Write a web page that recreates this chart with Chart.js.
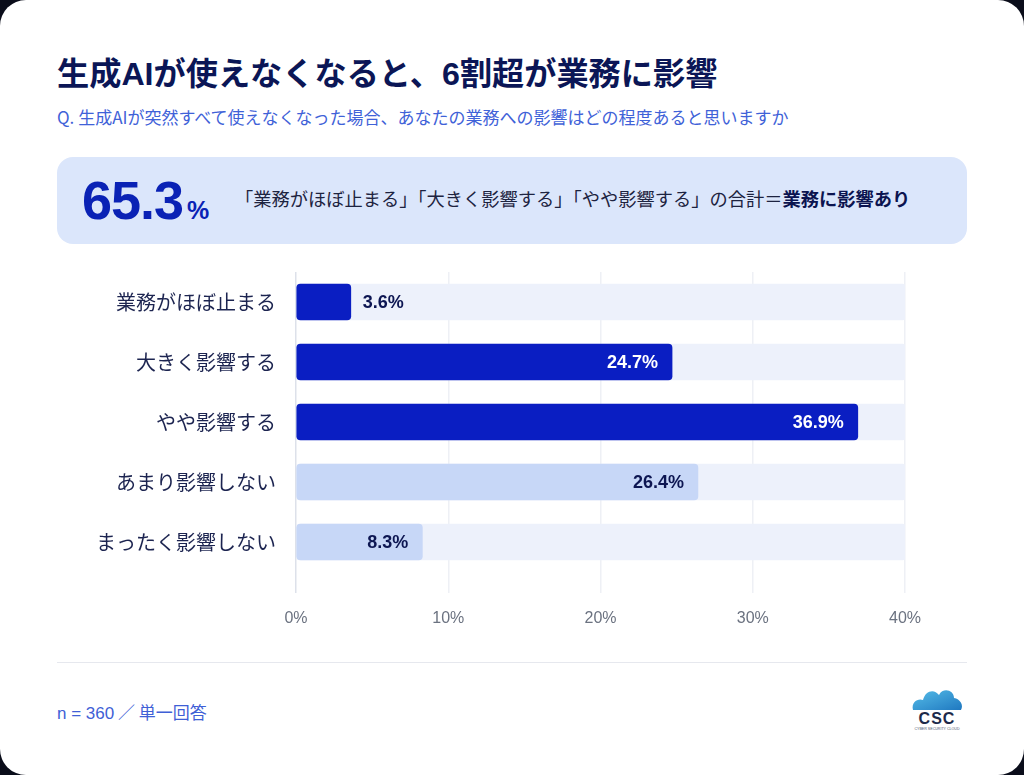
<!DOCTYPE html>
<html lang="ja">
<head>
<meta charset="utf-8">
<script src="https://cdn.jsdelivr.net/npm/chart.js@4.4.1/dist/chart.umd.min.js"></script>
<style>
  html, body { margin: 0; padding: 0; background: #0a0d1a; }
  body { width: 1024px; height: 775px; overflow: hidden; font-family: "Noto Sans CJK JP", sans-serif; }
  .card { position: absolute; left: 0; top: 0; width: 1024px; height: 775px; background: #fff; border-radius: 26px; }
  .title { position: absolute; left: 57px; top: 48px; margin: 0; font-size: 32.2px; font-weight: 700; color: #0b1656; line-height: 46px; white-space: nowrap; }
  .title .num { font-family: "Liberation Sans", "Noto Sans CJK JP", sans-serif; }
  .question { position: absolute; left: 57px; top: 105px; font-size: 17px; color: #3f62d8; line-height: 24px; white-space: nowrap; }
  .highlight { position: absolute; left: 57px; top: 157px; width: 910px; height: 87px; background: #dbe6fb; border-radius: 16px; }
  .big { position: absolute; left: 25px; top: 11px; font-family: "Liberation Sans", sans-serif; font-weight: 700; color: #0a22b5; font-size: 54px; line-height: 64px; letter-spacing: -1px; white-space: nowrap; }
  .big small { font-size: 25px; letter-spacing: 0; margin-left: 4px; }
  .note { position: absolute; left: 178px; top: 27px; font-size: 18.25px; color: #1d2340; line-height: 28px; white-space: nowrap; }
  .note b { color: #0b1450; }
  .chart-box { position: absolute; left: 57px; top: 241px; width: 910px; height: 401px; }
  .rule { position: absolute; left: 57px; top: 662px; width: 910px; height: 1px; background: #e6e8ee; }
  .footer { position: absolute; left: 57px; top: 700px; font-size: 17px; color: #3f5fd6; line-height: 24px; white-space: nowrap; }
  .footer .num { font-family: "Liberation Sans", sans-serif; }
  .logo { position: absolute; left: 904px; top: 684px; width: 66px; height: 50px; }
</style>
</head>
<body>
<div class="card">
  <h1 class="title">生成<span class="num">AI</span>が使えなくなると、<span class="num">6</span>割超が業務に影響</h1>
  <div class="question">Q. 生成AIが突然すべて使えなくなった場合、あなたの業務への影響はどの程度あると思いますか</div>
  <div class="highlight">
    <div class="big">65.3<small>%</small></div>
    <div class="note">「業務がほぼ止まる」「大きく影響する」「やや影響する」の合計＝<b>業務に影響あり</b></div>
  </div>
  <div class="chart-box"><canvas id="chart"></canvas></div>
  <div class="rule"></div>
  <div class="footer"><span class="num">n = 360</span> ／ 単一回答</div>
  <svg class="logo" viewBox="0 0 66 50">
    <defs>
      <linearGradient id="cloudGrad" x1="0" y1="0" x2="1" y2="1">
        <stop offset="0" stop-color="#56bde8"/>
        <stop offset="1" stop-color="#1f78c0"/>
      </linearGradient>
    </defs>
    <path d="M9 26 C7 18 14 14 19 16 C21 7 30 4 35 11 C39 3 50 6 50 14 C56 15 60 21 57 26 Z" fill="url(#cloudGrad)"/>
    <text x="33" y="40" text-anchor="middle" font-family="Liberation Sans, sans-serif" font-weight="700" font-size="16" fill="#1d2a4a" letter-spacing="1">CSC</text>
    <text x="33" y="46" text-anchor="middle" font-family="Liberation Sans, sans-serif" font-size="3.6" fill="#4a5570">CYBER SECURITY CLOUD</text>
  </svg>
</div>

<script>
  const categories = ['業務がほぼ止まる', '大きく影響する', 'やや影響する', 'あまり影響しない', 'まったく影響しない'];
  const shares = [3.6, 24.7, 36.9, 26.4, 8.3];
  const trackValues = [40, 40, 40, 40, 40];
  const tickValues = [0, 10, 20, 30, 40];
  const impactGroup = [true, true, true, false, false];

  const DARK = '#0a1ec2';
  const LIGHT = '#c7d7f7';
  const NAVY = '#0d1652';

  const barLabels = {
    id: 'barLabels',
    afterDatasetsDraw(chart) {
      const meta = chart.getDatasetMeta(1);
      const ctx = chart.ctx;
      ctx.save();
      ctx.font = 'bold 18px "Liberation Sans", sans-serif';
      ctx.textBaseline = 'middle';
      meta.data.forEach((bar, i) => {
        const text = shares[i].toFixed(1) + '%';
        if (shares[i] < 5) {
          ctx.textAlign = 'left';
          ctx.fillStyle = NAVY;
          ctx.fillText(text, bar.x + 12, bar.y + 1);
        } else {
          ctx.textAlign = 'right';
          ctx.fillStyle = impactGroup[i] ? '#ffffff' : NAVY;
          ctx.fillText(text, bar.x - 14, bar.y + 1);
        }
      });
      ctx.restore();
    }
  };

  new Chart(document.getElementById('chart'), {
    type: 'bar',
    data: {
      labels: categories,
      datasets: [
        {
          data: trackValues,
          backgroundColor: '#edf1fb',
          borderRadius: 3,
          borderSkipped: false,
          barThickness: 36,
          grouped: false,
          order: 2
        },
        {
          data: shares,
          backgroundColor: impactGroup.map(v => v ? DARK : LIGHT),
          borderRadius: 4,
          borderSkipped: false,
          barThickness: 36,
          grouped: false,
          order: 1
        }
      ]
    },
    options: {
      indexAxis: 'y',
      responsive: true,
      maintainAspectRatio: false,
      animation: false,
      layout: { padding: { top: 31, right: 62, bottom: 0, left: 0 } },
      plugins: { legend: { display: false }, tooltip: { enabled: false } },
      scales: {
        x: {
          min: 0,
          max: 40,
          afterBuildTicks(scale) { scale.ticks = tickValues.map(v => ({ value: v })); },
          afterFit(scale) { scale.height = 70; },
          border: { display: false },
          grid: {
            color: ctx => ctx.tick && ctx.tick.value === 0 ? '#dde1ea' : '#eef0f5',
            lineWidth: 1.5,
            tickLength: 21
          },
          ticks: {
            padding: 16,
            color: '#6b7280',
            font: { family: '"Liberation Sans", sans-serif', size: 16 },
            callback: v => v + '%'
          }
        },
        y: {
          afterFit(scale) { scale.width = 239; },
          border: { display: false },
          grid: { display: false },
          ticks: {
            padding: 12,
            color: '#1c2450',
            font: { family: '"Noto Sans CJK JP", sans-serif', size: 20 }
          }
        }
      }
    },
    plugins: [barLabels]
  });
</script>
</body>
</html>
